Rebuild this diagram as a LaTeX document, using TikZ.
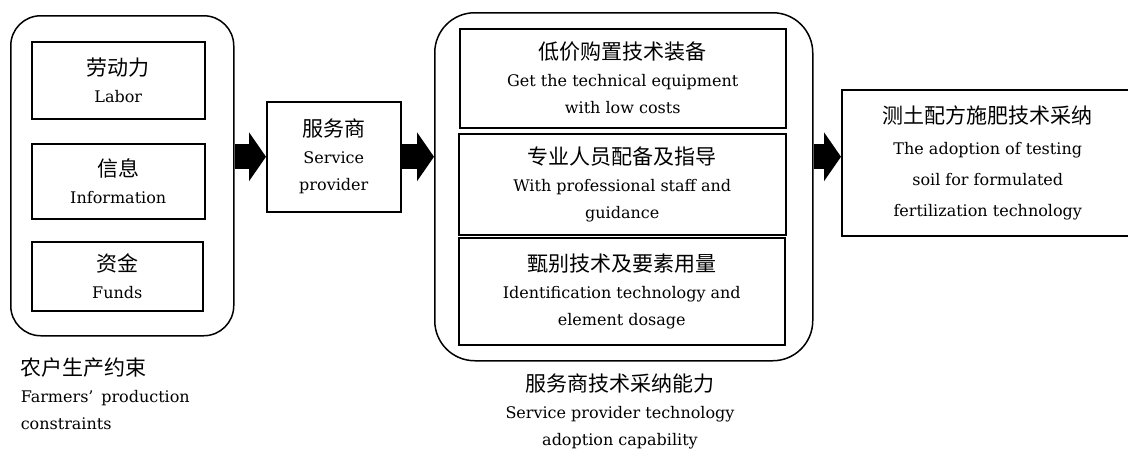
\documentclass[tikz,border=0pt]{standalone}
\usepackage{fontspec}
\setmainfont{DejaVu Serif}
\newfontfamily\cjk{Noto Sans CJK SC}
\usepackage{tikz}
\usetikzlibrary{arrows.meta}

\newcommand{\txt}{\fontsize{16}{27}\selectfont}
\newcommand{\zh}[1]{{\cjk\fontsize{21}{27}\selectfont #1}}

\begin{document}
\begin{tikzpicture}[
		x=1pt, y=-1pt,
		line width=1.5pt,
		group/.style={draw, rounded corners=30pt, anchor=north west, inner sep=0pt},
		item/.style={draw, align=center, anchor=north west, inner sep=0pt, font=\txt},
		lbl/.style={align=center, inner sep=0pt, font=\txt},
		blockarrow/.style={line width=25pt, -{Triangle[width=49pt, length=17pt, line width=0pt]}}
		]
	\useasboundingbox (0, 0) rectangle (1128, 450);
	
	% Farmers
	\node[group, minimum width=223pt, minimum height=320pt] (farm) at (10, 15) {};
	\node[item, minimum width=173pt, minimum height=77pt] (labor) at (31, 41) {\zh{劳动力}\\Labor};
	\node[item, minimum width=173pt, minimum height=75pt] (info) at (31, 143) {\zh{信息}\\Information};
	\node[item, minimum width=171pt, minimum height=69pt] (funds) at (31, 241) {\zh{资金}\\Funds};
	\node[lbl, anchor=north west, align=left] (farmlbl) at (20, 357) {\zh{农户生产约束}\\Farmers’\, production\\constraints};
	
	% Service provider
	\node[item, minimum width=134pt, minimum height=110pt] (sp) at (266, 101) {\zh{服务商}\\Service\\provider};
	
	% Capability
	\node[group, rounded corners=40pt, minimum width=378pt, minimum height=348pt] (cap) at (434, 12) {};
	\node[item, minimum width=326pt, minimum height=99pt] (equip) at (459, 28) {\zh{低价购置技术装备}\\Get the technical equipment\\with low costs};
	\node[item, minimum width=327pt, minimum height=101pt] (staff) at (458, 133) {\zh{专业人员配备及指导}\\With professional staff and\\guidance};
	\node[item, minimum width=326pt, minimum height=107pt] (ident) at (458, 237) {\zh{甄别技术及要素用量}\\Identification technology and\\element dosage};
	\node[lbl, anchor=north] (caplbl) at (620, 373) {\zh{服务商技术采纳能力}\\Service provider technology\\adoption capability};
	
	% Adoption (right side runs off the page)
	\node[item, font=\fontsize{16}{31}\selectfont, minimum width=292pt, minimum height=146pt] (adopt) at (841, 89) {\zh{测土配方施肥技术采纳}\\The adoption of testing\\soil for formulated\\fertilization technology};
	
	% Arrows
	\draw[blockarrow] (farm.east |- sp.west) -- (sp.west);
	\draw[blockarrow] (sp.east) -- (sp.east -| cap.west);
	\draw[blockarrow] (cap.east |- sp.east) -- (sp.east -| adopt.west);
	
\end{tikzpicture}
\end{document}
